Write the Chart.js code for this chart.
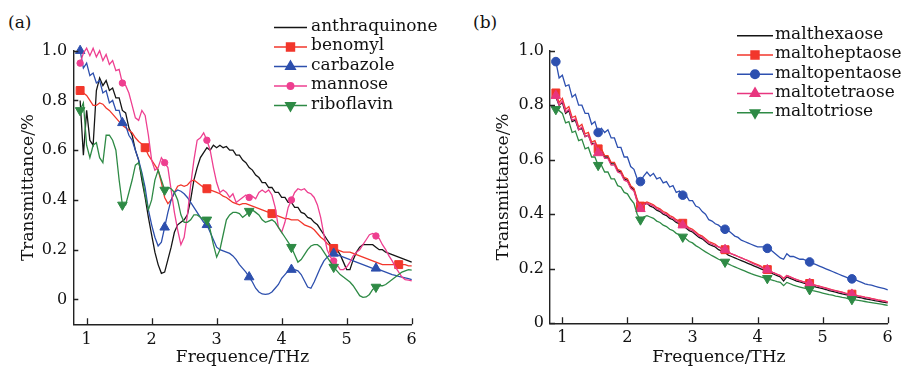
<!DOCTYPE html>
<html>
<head>
<meta charset="utf-8">
<script src="https://cdn.jsdelivr.net/npm/chart.js@4.4.1/dist/chart.umd.min.js"></script>
<style>
  html, body { margin: 0; padding: 0; background: #fff; }
  #page { position: relative; width: 903px; height: 368px; overflow: hidden; font-family: "DejaVu Serif", serif; color: #111; }
  .panel { position: absolute; top: 0; }
  .tag { position: absolute; top: 10px; font-size: 17px; line-height: 24px; }
</style>
</head>
<body>
<div id="page">
  <div class="tag" style="left:8px">(a)</div>
  <div class="tag" style="left:473px">(b)</div>
  <canvas id="chartA" class="panel" style="left:0" width="450" height="368"></canvas>
  <canvas id="chartB" class="panel" style="left:450px" width="453" height="368"></canvas>
</div>
<script>
// ── shared frequency grid (THz) ──
const freq = [
  0.90, 0.95, 1.00, 1.05, 1.10, 1.15, 1.20, 1.25, 1.30, 1.35,
  1.40, 1.45, 1.50, 1.55, 1.60, 1.65, 1.70, 1.75, 1.80, 1.85,
  1.90, 1.95, 2.00, 2.05, 2.10, 2.15, 2.20, 2.25, 2.30, 2.35,
  2.40, 2.45, 2.50, 2.55, 2.60, 2.65, 2.70, 2.75, 2.80, 2.85,
  2.90, 2.95, 3.00, 3.05, 3.10, 3.15, 3.20, 3.25, 3.30, 3.35,
  3.40, 3.45, 3.50, 3.55, 3.60, 3.65, 3.70, 3.75, 3.80, 3.85,
  3.90, 3.95, 4.00, 4.05, 4.10, 4.15, 4.20, 4.25, 4.30, 4.35,
  4.40, 4.45, 4.50, 4.55, 4.60, 4.65, 4.70, 4.75, 4.80, 4.85,
  4.90, 4.95, 5.00, 5.05, 5.10, 5.15, 5.20, 5.25, 5.30, 5.35,
  5.40, 5.45, 5.50, 5.55, 5.60, 5.65, 5.70, 5.75, 5.80, 5.85,
  5.90, 5.95, 6.00, 6.05
];

const xTicks = [1, 2, 3, 4, 5, 6];
const yTicks = [0, 0.2, 0.4, 0.6, 0.8, 1.0];

// marker positions (THz)
const marksDense = [0.90, 1.55, 2.20, 2.85, 3.50, 4.15, 4.80, 5.45];
const marksBenomyl = [0.90, 1.90, 2.85, 3.85, 4.80, 5.80];

// ── (a) ──
const anthraquinone = [
  .80, .58, .76, .64, .62, .84, .89, .86, .88, .84,
  .85, .81, .81, .76, .75, .69, .66, .60, .56, .48,
  .41, .33, .26, .19, .14, .105, .11, .16, .21, .27,
  .30, .31, .32, .34, .40, .48, .53, .57, .59, .61,
  .60, .62, .61, .62, .61, .615, .60, .60, .58, .58,
  .56, .55, .53, .52, .50, .49, .47, .47, .45, .45,
  .43, .43, .41, .41, .39, .39, .37, .37, .35, .345,
  .33, .325, .31, .30, .28, .26, .24, .22, .21, .20,
  .18, .15, .12, .12, .16, .19, .21, .22, .22, .22,
  .22, .21, .20, .20, .19, .185, .18, .175, .17, .165,
  .16, .155, .15, .145
];
const benomyl = [
  .84, .83, .82, .80, .78, .78, .79, .785, .77, .76,
  .745, .73, .715, .70, .69, .68, .67, .65, .635, .625,
  .61, .58, .56, .54, .52, .47, .41, .385, .40, .43,
  .455, .46, .455, .46, .475, .48, .47, .46, .45, .445,
  .44, .435, .43, .425, .415, .41, .40, .39, .385, .38,
  .385, .385, .38, .375, .37, .365, .36, .355, .35, .345,
  .34, .335, .33, .325, .325, .32, .32, .32, .31, .30,
  .295, .29, .28, .265, .25, .24, .225, .215, .205, .20,
  .195, .19, .19, .19, .185, .18, .175, .17, .165, .16,
  .155, .15, .145, .14, .14, .14, .14, .14, .14, .14,
  .14, .135, .135, .13
];
const carbazole = [
  1.00, .93, .95, .90, .91, .87, .88, .83, .84, .79,
  .80, .76, .76, .71, .70, .66, .64, .60, .56, .51,
  .45, .36, .30, .25, .215, .23, .29, .35, .40, .43,
  .44, .435, .425, .41, .39, .37, .35, .33, .31, .30,
  .27, .24, .21, .20, .195, .19, .185, .175, .16, .14,
  .125, .11, .09, .07, .045, .03, .022, .02, .022, .03,
  .045, .06, .085, .10, .115, .12, .12, .115, .10, .075,
  .05, .045, .07, .10, .13, .155, .17, .18, .185, .18,
  .175, .17, .165, .16, .155, .15, .145, .14, .135, .13,
  .125, .125, .12, .115, .11, .105, .10, .097, .093, .09,
  .087, .084, .08, .077
];
const mannose = [
  .95, .99, 1.01, .98, 1.01, .975, 1.00, .96, .985, .945,
  .96, .92, .925, .87, .86, .83, .78, .73, .72, .76,
  .74, .66, .56, .52, .53, .57, .55, .53, .44, .35,
  .28, .22, .25, .34, .46, .56, .64, .65, .67, .64,
  .60, .53, .47, .43, .44, .43, .41, .425, .39, .40,
  .41, .42, .41, .415, .405, .43, .44, .43, .44, .42,
  .37, .29, .27, .31, .37, .40, .43, .445, .44, .445,
  .43, .425, .41, .38, .33, .26, .20, .17, .155, .14,
  .12, .12, .13, .15, .175, .19, .20, .22, .24, .26,
  .265, .255, .245, .22, .20, .175, .155, .13, .11, .09,
  .08, .078, .075, .075
];
const riboflavin = [
  .76, .79, .62, .57, .62, .63, .57, .55, .66, .66,
  .64, .60, .48, .38, .38, .43, .48, .54, .55, .50,
  .42, .36, .40, .48, .52, .48, .44, .45, .445, .43,
  .40, .34, .31, .31, .32, .34, .34, .33, .32, .32,
  .28, .22, .17, .20, .26, .32, .34, .35, .35, .345,
  .33, .34, .355, .36, .35, .34, .32, .31, .315, .32,
  .31, .29, .27, .25, .23, .21, .18, .15, .16, .18,
  .20, .215, .22, .22, .21, .19, .17, .15, .13, .115,
  .10, .09, .08, .07, .055, .035, .015, .008, .01, .02,
  .04, .05, .055, .055, .06, .07, .08, .09, .10, .11,
  .115, .12, .118, .115
];

// ── (b) ──
const malthexaose = [
  .83, .80, .81, .77, .78, .74, .745, .71, .715, .685,
  .69, .66, .66, .635, .635, .61, .61, .585, .585, .56,
  .555, .53, .525, .50, .49, .45, .43, .435, .44, .43,
  .425, .415, .41, .40, .395, .385, .38, .37, .365, .36,
  .35, .34, .335, .325, .315, .31, .30, .29, .285, .28,
  .27, .265, .26, .25, .245, .24, .235, .23, .225, .22,
  .215, .21, .205, .20, .195, .19, .185, .18, .175, .17,
  .155, .17, .165, .16, .155, .152, .148, .145, .14, .137,
  .133, .13, .127, .124, .12, .117, .114, .111, .108, .105,
  .103, .10, .098, .095, .093, .09, .088, .086, .083, .081,
  .079, .077, .075, .073
];
const maltoheptaose = [
  .845, .81, .825, .785, .795, .755, .76, .72, .73, .695,
  .70, .665, .67, .64, .64, .615, .615, .59, .59, .565,
  .56, .535, .53, .505, .495, .455, .43, .44, .445, .44,
  .435, .425, .42, .41, .405, .395, .39, .38, .375, .367,
  .36, .35, .345, .335, .325, .32, .31, .30, .295, .29,
  .28, .275, .27, .26, .255, .25, .245, .24, .235, .23,
  .225, .22, .215, .21, .20, .197, .19, .185, .18, .175,
  .165, .175, .17, .165, .16, .157, .153, .15, .146, .142,
  .139, .136, .133, .13, .126, .123, .12, .117, .114, .111,
  .109, .107, .104, .101, .099, .096, .094, .091, .089, .086,
  .084, .082, .079, .077
];
const maltopentaose = [
  .96, .90, .91, .87, .875, .83, .84, .80, .80, .77,
  .77, .73, .74, .70, .715, .70, .71, .68, .68, .645,
  .645, .61, .61, .575, .565, .53, .52, .54, .555, .54,
  .55, .53, .535, .515, .52, .50, .505, .48, .485, .47,
  .47, .45, .45, .43, .425, .41, .40, .38, .375, .365,
  .36, .35, .345, .34, .33, .32, .315, .305, .30, .295,
  .29, .285, .28, .28, .28, .275, .27, .26, .25, .24,
  .235, .255, .245, .245, .24, .235, .235, .23, .225, .22,
  .215, .21, .205, .20, .195, .19, .185, .18, .175, .17,
  .165, .163, .16, .155, .15, .145, .142, .14, .136, .133,
  .13, .127, .123, .12
];
const maltotetraose = [
  .835, .80, .815, .775, .785, .745, .75, .71, .72, .685,
  .69, .655, .66, .625, .63, .605, .605, .58, .58, .555,
  .55, .525, .52, .495, .485, .445, .42, .435, .44, .435,
  .43, .42, .415, .405, .40, .39, .385, .375, .37, .36,
  .355, .345, .34, .33, .32, .315, .305, .295, .29, .285,
  .28, .275, .27, .26, .255, .25, .245, .24, .235, .23,
  .222, .217, .212, .207, .20, .196, .19, .185, .18, .175,
  .163, .175, .17, .165, .16, .156, .152, .149, .146, .142,
  .138, .135, .132, .128, .125, .122, .119, .116, .113, .11,
  .108, .106, .103, .10, .098, .095, .093, .09, .088, .085,
  .083, .081, .078, .076
];
const maltotriose = [
  .785, .78, .77, .735, .74, .70, .705, .67, .675, .64,
  .645, .61, .61, .58, .58, .555, .555, .53, .53, .505,
  .50, .48, .475, .455, .44, .40, .38, .39, .395, .39,
  .385, .375, .37, .36, .355, .345, .34, .33, .325, .317,
  .31, .30, .295, .285, .278, .27, .262, .255, .248, .242,
  .235, .23, .225, .218, .212, .207, .202, .197, .192, .187,
  .182, .178, .174, .17, .167, .165, .16, .157, .153, .15,
  .138, .15, .145, .14, .136, .133, .13, .127, .124, .12,
  .117, .114, .111, .108, .105, .103, .10, .098, .095, .093,
  .09, .088, .086, .084, .082, .08, .078, .076, .074, .072,
  .07, .068, .066, .064
];

Chart.defaults.font.family = '"DejaVu Serif", serif';
Chart.defaults.color = '#111';
Chart.defaults.animation = false;

// later series are drawn on top, as in the original plot
function series(label, values, color, style, r, marks, rot, order) {
  return {
    label,
    data: freq.map((f, i) => ({ x: f, y: values[i] })),
    borderColor: color,
    backgroundColor: color,
    borderWidth: 1.3,
    pointStyle: style || 'circle',
    pointRotation: rot || 0,
    pointBorderWidth: 1,
    markR: r,
    pointRadius: ctx => (marks && marks.some(m => Math.abs(m - ctx.raw.x) < 1e-6)) ? r : 0,
    pointHoverRadius: 0,
    tension: 0,
    clip: 10,
    order: -order
  };
}

// inward tick marks on both axes
const inwardTicks = {
  id: 'inwardTicks',
  afterDraw(chart) {
    const { ctx, chartArea: a, scales: { x, y } } = chart;
    ctx.save();
    ctx.strokeStyle = '#222';
    ctx.lineWidth = 1.3;
    ctx.beginPath();
    x.ticks.forEach(t => {
      const px = Math.round(x.getPixelForValue(t.value)) + 0.5;
      ctx.moveTo(px, a.bottom); ctx.lineTo(px, a.bottom - 6);
    });
    y.ticks.forEach(t => {
      const py = Math.round(y.getPixelForValue(t.value)) + 0.5;
      ctx.moveTo(a.left, py); ctx.lineTo(a.left + 5, py);
    });
    ctx.stroke();
    ctx.restore();
  }
};

// legend drawn as line + marker + name
const lineLegend = {
  id: 'lineLegend',
  afterDraw(chart, args, o) {
    const { ctx } = chart;
    ctx.save();
    ctx.font = '17px "DejaVu Serif", serif';
    ctx.textBaseline = 'middle';
    chart.data.datasets.forEach((ds, i) => {
      const yy = o.y0 + i * o.dy;
      ctx.strokeStyle = ds.borderColor;
      ctx.lineWidth = 1.5;
      ctx.beginPath();
      ctx.moveTo(o.x0, yy); ctx.lineTo(o.x1, yy);
      ctx.stroke();
      if (ds.markR) {
        ctx.fillStyle = ds.borderColor;
        Chart.helpers.drawPoint(ctx, { pointStyle: ds.pointStyle, radius: ds.markR, rotation: ds.pointRotation, borderWidth: 1 }, (o.x0 + o.x1) / 2, yy);
      }
      ctx.fillStyle = '#111';
      ctx.fillText(ds.label, o.tx, yy - 1);
    });
    ctx.restore();
  }
};

function makeOptions(xmin, ymin, yWidth, xHeight, xPad, pad, legend) {
  return {
    responsive: false,
    layout: { padding: pad },
    plugins: { legend: { display: false }, tooltip: { enabled: false }, lineLegend: legend },
    scales: {
      x: {
        type: 'linear', min: xmin, max: 6,
        afterBuildTicks: s => { s.ticks = xTicks.map(v => ({ value: v })); },
        afterFit: s => { s.height = xHeight; },
        grid: { display: false, drawTicks: false },
        border: { display: true, color: '#222', width: 1.4 },
        ticks: { padding: xPad, font: { size: 16 }, color: '#111', maxRotation: 0, callback: v => String(v) },
        title: { display: true, text: 'Frequence/THz', font: { size: 17 }, color: '#111', padding: 0 }
      },
      y: {
        type: 'linear', min: ymin, max: 1.0,
        afterBuildTicks: s => { s.ticks = yTicks.map(v => ({ value: v })); },
        afterFit: s => { s.width = yWidth; },
        grid: { display: false, drawTicks: false },
        border: { display: true, color: '#222', width: 1.4 },
        ticks: { padding: 6, font: { size: 16 }, color: '#111', callback: v => v === 0 ? '0' : v.toFixed(1) },
        title: { display: true, text: 'Transmittance/%', font: { size: 17 }, color: '#111', padding: 0 }
      }
    }
  };
}

new Chart(document.getElementById('chartA'), {
  type: 'line',
  data: {
    datasets: [
      series('anthraquinone', anthraquinone, '#151515', 'circle', 0, null, 0, 0),
      series('benomyl', benomyl, '#f2362b', 'rect', 5.6, marksBenomyl, 0, 1),
      series('carbazole', carbazole, '#2d4fad', 'triangle', 5.5, marksDense, 0, 2),
      series('mannose', mannose, '#ee3f90', 'circle', 3.2, marksDense, 0, 3),
      series('riboflavin', riboflavin, '#2e8a45', 'triangle', 5.5, marksDense, 180, 4)
    ]
  },
  options: makeOptions(0.795, -0.1, 54.5, 43.7, 6,
    { left: 18.8, right: 38.3, top: 50.7, bottom: 0 },
    { x0: 274, x1: 307, tx: 311, y0: 27.5, dy: 19.5 }),
  plugins: [inwardTicks, lineLegend]
});

new Chart(document.getElementById('chartB'), {
  type: 'line',
  data: {
    datasets: [
      series('malthexaose', malthexaose, '#151515', 'circle', 0, null, 0, 0),
      series('maltoheptaose', maltoheptaose, '#f2362b', 'rect', 5.6, marksDense, 0, 1),
      series('maltopentaose', maltopentaose, '#2d50b0', 'circle', 4.3, marksDense, 0, 2),
      series('maltotetraose', maltotetraose, '#e8367f', 'triangle', 5.5, marksDense, 0, 3),
      series('maltotriose', maltotriose, '#2e8a45', 'triangle', 5.5, marksDense, 180, 4)
    ]
  },
  options: makeOptions(0.81, 0, 56.2, 44.7, 5,
    { left: 43.8, right: 15.3, top: 50.7, bottom: 0 },
    { x0: 287, x1: 323, tx: 325, y0: 35.7, dy: 19.25 }),
  plugins: [inwardTicks, lineLegend]
});
</script>
</body>
</html>
